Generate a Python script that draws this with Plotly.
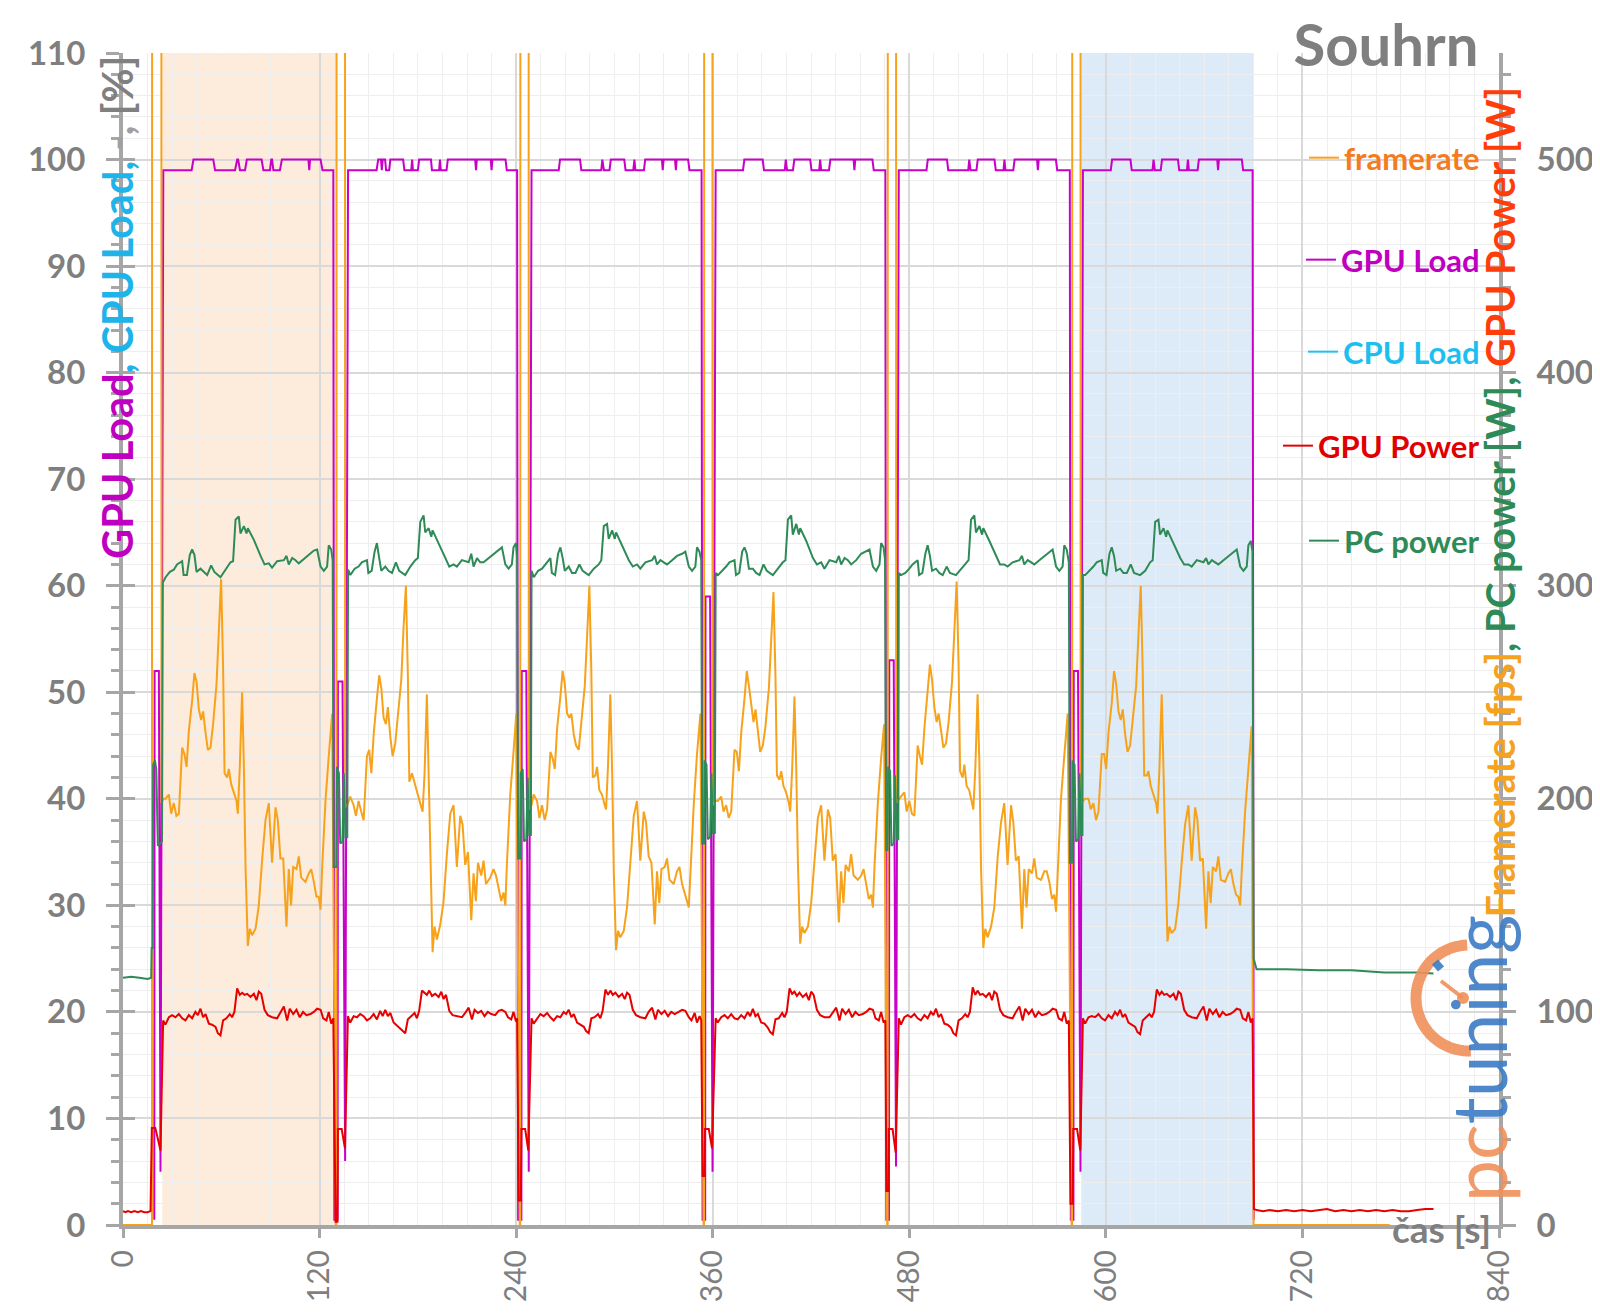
import math
import plotly.graph_objects as go

# ---------------- DATA (time [s], value) ----------------
# framerate [fps] (right axis); loading-screen spikes run far above the axis top
framerate_points = [
    (0, 0), (17.7, 0), (17.9, 1500), (23.3, 1500), (23.5, 198),
    (24.6, 200), (25.9, 200), (28.0, 202), (29.4, 193), (31.0, 198), (32.6, 192), (34.1, 193), (36.1, 224), (37.5, 221),
    (38.8, 215), (40.2, 232), (42.2, 246), (43.6, 259), (44.9, 255), (46.3, 242), (47.7, 237), (48.9, 241), (50.4, 231),
    (51.8, 223), (53.4, 224), (55.0, 235), (57.1, 254), (58.5, 278), (59.9, 303), (61.1, 262), (62.0, 212), (63.6, 210),
    (64.6, 214), (66.0, 207), (67.6, 203), (69.3, 199), (70.1, 193), (71.3, 215), (72.7, 250), (73.8, 215), (74.8, 168),
    (76.2, 131), (77.4, 139), (78.8, 136), (80.9, 139), (82.9, 150), (85.0, 172), (87.0, 190), (89.0, 198), (91.0, 170),
    (93.1, 196), (94.5, 190), (96.1, 172), (97.8, 172), (99.8, 140), (101.2, 167), (102.6, 150), (103.9, 168), (105.9, 167),
    (107.3, 173), (108.8, 163), (111.4, 161), (113.4, 165), (114.9, 167), (116.5, 161), (118.1, 154), (119.5, 154),
    (120.6, 148), (121.6, 168), (123.6, 199), (125.6, 220), (127.7, 240),
    (129.9, 0), (130.3, 0), (130.5, 1500), (135.4, 1500), (135.6, 196),
    (137.4, 198), (138.7, 201), (140.8, 197), (142.2, 192), (143.8, 199), (145.4, 194), (146.9, 190), (148.9, 220), (150.3, 223),
    (151.6, 212), (153.0, 230), (155.0, 247), (156.4, 258), (157.7, 252), (159.1, 238), (160.5, 235), (161.7, 243), (163.2, 229),
    (164.6, 220), (166.2, 226), (167.8, 238), (169.9, 256), (171.3, 281), (172.7, 300), (173.9, 258), (174.8, 208), (176.4, 212),
    (177.4, 209), (178.8, 205), (180.4, 201), (182.1, 196), (182.9, 194), (184.1, 212), (185.5, 249), (186.6, 210), (187.6, 165),
    (189.0, 128), (190.2, 140), (191.6, 134), (193.7, 141), (195.7, 152), (197.8, 175), (199.8, 193), (201.8, 197), (203.8, 168),
    (205.9, 192), (207.3, 188), (208.9, 169), (210.6, 175), (212.6, 143), (214.0, 165), (215.4, 152), (216.7, 170), (218.7, 164),
    (220.1, 171), (221.6, 160), (224.2, 163), (226.2, 167), (227.7, 164), (229.3, 158), (230.9, 152), (232.3, 156), (233.4, 150),
    (234.4, 170), (236.4, 202), (238.4, 222), (240.1, 240),
    (242.2, 0), (242.5, 0), (242.7, 1500), (247.5, 1500), (247.7, 195),
    (249.4, 197), (250.7, 202), (252.8, 199), (254.2, 191), (255.8, 197), (257.4, 190), (258.9, 195), (260.9, 222), (262.3, 219),
    (263.6, 214), (265.0, 233), (267.0, 248), (268.4, 260), (269.7, 254), (271.1, 240), (272.5, 238), (273.7, 240), (275.2, 230),
    (276.6, 225), (278.2, 223), (279.8, 236), (281.9, 253), (283.3, 276), (284.7, 300), (285.9, 260), (286.8, 210), (288.4, 211),
    (289.4, 215), (290.8, 204), (292.4, 202), (294.1, 197), (294.9, 195), (296.1, 216), (297.5, 249), (298.6, 213), (299.6, 166),
    (301.0, 129), (302.2, 138), (303.6, 135), (305.7, 138), (307.7, 149), (309.8, 170), (311.8, 192), (313.8, 199), (315.8, 171),
    (317.9, 194), (319.3, 189), (320.9, 173), (322.6, 170), (324.6, 141), (326.0, 166), (327.4, 151), (328.7, 167), (330.7, 168),
    (332.1, 172), (333.6, 162), (336.2, 160), (338.2, 166), (339.7, 168), (341.3, 160), (342.9, 155), (344.3, 152), (345.4, 149),
    (346.4, 166), (348.4, 197), (350.4, 221), (352.5, 240),
    (354.4, 0), (354.7, 0), (354.9, 1500), (359.7, 1500), (359.9, 197),
    (361.8, 199), (363.1, 199), (365.2, 201), (366.6, 194), (368.2, 197), (369.8, 191), (371.3, 194), (373.3, 223), (374.7, 222),
    (376.0, 213), (377.4, 231), (379.4, 247), (380.8, 260), (382.1, 253), (383.5, 243), (384.9, 236), (386.1, 242), (387.6, 232),
    (389.0, 222), (390.6, 225), (392.2, 234), (394.3, 252), (395.7, 275), (397.1, 297), (398.3, 258), (399.2, 211), (400.8, 209),
    (401.8, 213), (403.2, 206), (404.8, 203), (406.5, 198), (407.3, 194), (408.5, 214), (409.9, 248), (411.0, 214), (412.0, 170),
    (413.4, 132), (414.6, 140), (416.0, 137), (418.1, 140), (420.1, 151), (422.2, 171), (424.2, 191), (426.2, 197), (428.2, 171),
    (430.3, 195), (431.7, 191), (433.3, 171), (435.0, 174), (437.0, 142), (438.4, 166), (439.8, 151), (441.1, 169), (443.1, 166),
    (444.5, 174), (446.0, 164), (448.6, 162), (450.6, 164), (452.1, 167), (453.7, 160), (455.3, 153), (456.7, 155), (457.8, 149),
    (458.8, 169), (460.8, 198), (462.8, 219), (464.6, 235),
    (466.5, 0), (466.8, 0), (467.0, 1500), (471.8, 1500), (472.0, 198),
    (473.6, 200), (474.9, 201), (477.0, 203), (478.4, 194), (480.0, 199), (481.6, 193), (483.1, 192), (485.1, 225), (486.5, 220),
    (487.8, 216), (489.2, 233), (491.2, 249), (492.6, 263), (493.9, 256), (495.3, 243), (496.7, 236), (497.9, 240), (499.4, 232),
    (500.8, 224), (502.4, 226), (504.0, 236), (506.1, 255), (507.5, 279), (508.9, 302), (510.1, 263), (511.0, 213), (512.6, 210),
    (513.6, 216), (515.0, 206), (516.6, 204), (518.3, 198), (519.1, 195), (520.3, 214), (521.7, 249), (522.8, 216), (523.8, 168),
    (525.2, 130), (526.4, 139), (527.8, 135), (529.9, 140), (531.9, 149), (534.0, 173), (536.0, 189), (538.0, 198), (540.0, 169),
    (542.1, 197), (543.5, 189), (545.1, 171), (546.8, 173), (548.8, 139), (550.2, 167), (551.6, 149), (552.9, 167), (554.9, 165),
    (556.3, 172), (557.8, 163), (560.4, 162), (562.4, 166), (563.9, 166), (565.5, 161), (567.1, 153), (568.5, 155), (569.6, 147),
    (570.6, 167), (572.6, 200), (574.6, 220), (576.7, 240),
    (579.1, 0), (579.4, 0), (579.6, 1500), (584.4, 1500), (584.6, 197),
    (586.0, 199), (587.3, 200), (589.4, 200), (590.8, 195), (592.4, 198), (594.0, 190), (595.5, 194), (597.5, 221), (598.9, 221),
    (600.2, 214), (601.6, 231), (603.6, 245), (605.0, 260), (606.3, 254), (607.7, 241), (609.1, 237), (610.3, 242), (611.8, 230),
    (613.2, 222), (614.8, 225), (616.4, 236), (618.5, 253), (619.9, 277), (621.3, 300), (622.5, 260), (623.4, 211), (625.0, 211),
    (626.0, 213), (627.4, 206), (629.0, 202), (630.7, 198), (631.5, 193), (632.7, 214), (634.1, 249), (635.2, 214), (636.2, 169),
    (637.6, 133), (638.8, 140), (640.2, 137), (642.3, 139), (644.3, 151), (646.4, 171), (648.4, 188), (650.4, 197), (652.4, 171),
    (654.5, 196), (655.9, 190), (657.5, 171), (659.2, 172), (661.2, 139), (662.6, 166), (664.0, 151), (665.3, 168), (667.3, 166),
    (668.7, 173), (670.2, 162), (672.8, 161), (674.8, 165), (676.3, 167), (677.9, 160), (679.5, 155), (680.9, 154), (682.0, 150),
    (683.0, 167), (685.0, 194), (687.0, 214), (689.0, 234),
    (690.2, 0), (773.3, 0),
]

# GPU Load [%] (left axis)
gpu_load_points = [
    (19.1, 0.5), (19.3, 52), (21.9, 52), (22.9, 5),
    (24.6, 99), (41.9, 99), (43.0, 100), (55.1, 100), (56.2, 99), (68.4, 99), (69.7, 100), (70.3, 100), (71.4, 99), (74.5, 99),
    (75.6, 100), (84.6, 100), (85.7, 99), (89.7, 99), (90.5, 100), (91.0, 100), (91.8, 99), (95.8, 99), (97.0, 100), (113.2, 100),
    (113.7, 99), (114.2, 100), (120.6, 100), (121.8, 99), (128.4, 99),
    (129.0, 0.5), (131.0, 0.5), (131.2, 51), (134.0, 51), (135.6, 6),
    (137.4, 99), (154.8, 99), (155.8, 100), (157.5, 100), (158.0, 99), (158.5, 100), (160.0, 100), (160.6, 99), (162.5, 99),
    (163.2, 100), (171.0, 100), (171.8, 99), (176.0, 99), (176.5, 100), (177.0, 99), (180.0, 99), (180.8, 100), (188.0, 100),
    (188.6, 99), (193.0, 99), (193.5, 100), (194.0, 99), (197.5, 99), (198.3, 100), (215.0, 100), (215.5, 99), (216.0, 100),
    (224.5, 100), (225.0, 99), (225.5, 100), (233.5, 100), (234.3, 99), (240.6, 99),
    (241.2, 0.5), (243.2, 0.5), (243.4, 52), (246.2, 52), (247.7, 5),
    (249.4, 99), (266.0, 99), (266.8, 100), (279.0, 100), (279.8, 99), (292.0, 99), (292.6, 100), (293.6, 99), (297.0, 99),
    (297.8, 100), (306.0, 100), (306.8, 99), (311.5, 99), (312.2, 100), (312.8, 99), (318.0, 99), (318.8, 100), (329.0, 100),
    (329.5, 99), (330.0, 100), (337.0, 100), (337.5, 99), (338.0, 100), (345.0, 100), (345.8, 99), (353.2, 99),
    (353.8, 0.5), (355.4, 0.5), (355.6, 59), (358.4, 59), (359.9, 5),
    (361.8, 99), (378.5, 99), (379.3, 100), (390.5, 100), (391.3, 99), (404.0, 99), (404.6, 100), (405.4, 99), (409.0, 99),
    (409.8, 100), (419.5, 100), (420.3, 99), (425.0, 99), (425.6, 100), (426.2, 99), (431.0, 99), (431.8, 100), (446.0, 100),
    (446.5, 99), (447.0, 100), (457.5, 100), (458.3, 99), (465.4, 99),
    (466.0, 0.5), (467.6, 0.5), (467.8, 53), (470.5, 53), (471.9, 5.5),
    (473.6, 99), (490.5, 99), (491.3, 100), (503.0, 100), (503.8, 99), (516.0, 99), (516.6, 100), (517.4, 99), (521.0, 99),
    (521.8, 100), (532.0, 100), (532.8, 99), (537.5, 99), (538.1, 100), (538.7, 99), (543.5, 99), (544.3, 100), (558.0, 100),
    (558.5, 99), (559.0, 100), (569.5, 100), (570.3, 99), (578.0, 99),
    (578.6, 0.5), (580.2, 0.5), (580.4, 52), (583.0, 52), (584.5, 5),
    (586.0, 99), (603.0, 99), (603.8, 100), (615.0, 100), (615.8, 99), (628.5, 99), (629.1, 100), (629.9, 99), (633.5, 99),
    (634.3, 100), (644.0, 100), (644.8, 99), (649.5, 99), (650.1, 100), (650.7, 99), (656.0, 99), (656.8, 100), (668.0, 100),
    (668.5, 99), (669.0, 100), (683.0, 100), (683.8, 99), (689.6, 99), (690.3, 0.5),
]

# CPU Load [%] (left axis) - no samples visible in the chart
cpu_load_points = []

# GPU Power [W] (right axis)
gpu_power_points = [
    (0, 6.5), (1.5, 6), (3, 6.5), (5, 6), (7, 6.5), (9, 6), (11, 6.5), (13, 6), (15, 6), (16.8, 6.5),
    (17.6, 45.5), (19.7, 45.5), (20.5, 43), (22.9, 35),
    (24.5, 96), (25.9, 94), (28.0, 97.5), (30.0, 98.5), (32.0, 97.5), (34.1, 99), (36.1, 97), (38.1, 96), (40.2, 98.5),
    (42.2, 97), (44.2, 100), (45.7, 98.5), (47.3, 101.5), (48.9, 97.5), (50.4, 99), (52.4, 94.5), (54.4, 94), (56.5, 93),
    (57.9, 90), (59.5, 89), (61.1, 96), (63.1, 97), (65.2, 99), (66.6, 97.5), (68.0, 100), (69.7, 111), (71.3, 108),
    (72.7, 109), (74.2, 108), (75.8, 108.5), (77.8, 107), (79.9, 108.5), (81.5, 105.5), (82.9, 109.5), (84.4, 108.5),
    (86.4, 101), (88.4, 98.5), (91.0, 97.5), (94.1, 97), (96.1, 100), (98.2, 102.5), (100.2, 96), (101.8, 101.5), (103.9, 99),
    (105.9, 101), (107.9, 97.5), (109.9, 100), (112.0, 98.5), (114.4, 99), (116.5, 100), (118.5, 101.5), (120.6, 101),
    (122.2, 97), (124.2, 96), (125.6, 100), (127.1, 94.5), (128.4, 97),
    (129.8, 1.5), (130.9, 1.5), (131.2, 45), (133.5, 45), (135.5, 36),
    (137.3, 98), (138.7, 95), (140.8, 98), (142.8, 97.5), (144.8, 99), (146.9, 98), (148.9, 96), (150.9, 97), (153.0, 99),
    (155.0, 96.5), (157.0, 100.5), (158.5, 98), (160.1, 101), (161.7, 98), (163.2, 99.5), (165.2, 95), (167.2, 93.5),
    (169.3, 92), (170.7, 91), (172.3, 90), (173.9, 96.5), (175.9, 98), (178.0, 99.5), (179.4, 97), (180.8, 100.5),
    (182.5, 110), (184.1, 109), (185.5, 108), (187.0, 110), (188.6, 107.5), (190.6, 108.5), (192.7, 107), (194.3, 109.5),
    (195.7, 106), (197.2, 108), (199.2, 100.5), (201.2, 98.5), (203.8, 98), (206.9, 97.5), (208.9, 99.5), (211.0, 102),
    (213.0, 96.5), (214.6, 101), (216.7, 99.5), (218.7, 100.5), (220.7, 98), (222.7, 100), (224.8, 99), (227.2, 98.5),
    (229.3, 100.5), (231.3, 101), (233.4, 100), (235.0, 97.5), (237.0, 96.5), (238.4, 100), (239.9, 95.5), (240.6, 97),
    (241.6, 11.5), (242.9, 11.5), (243.2, 45), (245.5, 45), (247.4, 35),
    (249.4, 97), (250.7, 94.5), (252.8, 97), (254.8, 99), (256.8, 98), (258.9, 99.5), (260.9, 97.5), (262.9, 96), (265.0, 98),
    (267.0, 97.5), (269.0, 100), (270.5, 99), (272.1, 101), (273.7, 97.5), (275.2, 99), (277.2, 95), (279.2, 94), (281.3, 93),
    (282.7, 91), (284.3, 90), (285.9, 97), (287.9, 97.5), (290.0, 99), (291.4, 97), (292.8, 100.5), (294.5, 110.5),
    (296.1, 108), (297.5, 110), (299.0, 108), (300.6, 109), (302.6, 107), (304.7, 108.5), (306.3, 106), (307.7, 109),
    (309.2, 108), (311.2, 101), (313.2, 98.5), (315.8, 97.5), (318.9, 97), (320.9, 100), (323.0, 102), (325.0, 96.5),
    (326.6, 101), (328.7, 99), (330.7, 100.5), (332.7, 98), (334.7, 100), (336.8, 99), (339.2, 100), (341.3, 101),
    (343.3, 100.5), (345.4, 97.5), (347.0, 96), (349.0, 99.5), (350.4, 95), (352.0, 98), (353.0, 96),
    (353.8, 23), (355.0, 23), (355.3, 45), (357.6, 45), (359.6, 36),
    (361.8, 97), (363.1, 95), (365.2, 97.5), (367.2, 98.5), (369.2, 97), (371.3, 99), (373.3, 97), (375.3, 96.5), (377.4, 98.5),
    (379.4, 97), (381.4, 100), (382.9, 98), (384.5, 101.5), (386.1, 98), (387.6, 99), (389.6, 95), (391.6, 94.5), (393.7, 92.5),
    (395.1, 90.5), (396.7, 89.5), (398.3, 96.5), (400.3, 97), (402.4, 99.5), (403.8, 97.5), (405.2, 100), (406.9, 111),
    (408.5, 108.5), (409.9, 109.5), (411.4, 107.5), (413.0, 109), (415.0, 107), (417.1, 108.5), (418.7, 105.5), (420.1, 109.5),
    (421.6, 108), (423.6, 101), (425.6, 98.5), (428.2, 97.5), (431.3, 97.5), (433.3, 100), (435.4, 102), (437.4, 96),
    (439.0, 101.5), (441.1, 99), (443.1, 101), (445.1, 97.5), (447.1, 100), (449.2, 98.5), (451.6, 99), (453.7, 100),
    (455.7, 101.5), (457.8, 101), (459.4, 97), (461.4, 96), (462.8, 100), (464.3, 95), (465.4, 96),
    (466.0, 16), (467.2, 16), (467.5, 45), (469.8, 45), (471.7, 34),
    (473.6, 97), (474.9, 94), (477.0, 97.5), (479.0, 98.5), (481.0, 97.5), (483.1, 99), (485.1, 97), (487.1, 96), (489.2, 98.5),
    (491.2, 97), (493.2, 100), (494.7, 98.5), (496.3, 101.5), (497.9, 97.5), (499.4, 99), (501.4, 94.5), (503.4, 94),
    (505.5, 92.5), (506.9, 90), (508.5, 89), (510.1, 96), (512.1, 97), (514.2, 99), (515.6, 97.5), (517.0, 100), (518.7, 111.5),
    (520.3, 108), (521.7, 110), (523.2, 108), (524.8, 108.5), (526.8, 107), (528.9, 109), (530.5, 105.5), (531.9, 109.5),
    (533.4, 108.5), (535.4, 101), (537.4, 98.5), (540.0, 97.5), (543.1, 97), (545.1, 100), (547.2, 102.5), (549.2, 96),
    (550.8, 101.5), (552.9, 99), (554.9, 101), (556.9, 97.5), (558.9, 100), (561.0, 98.5), (563.4, 99), (565.5, 100),
    (567.5, 101.5), (569.6, 101), (571.2, 97), (573.2, 96), (574.6, 100), (576.1, 94.5), (577.4, 96),
    (578.4, 10), (579.8, 10), (580.1, 45), (582.4, 45), (584.4, 35),
    (586.0, 97), (587.3, 94.5), (589.4, 97.5), (591.4, 98), (593.4, 97.5), (595.5, 99), (597.5, 97), (599.5, 96), (601.6, 98.5),
    (603.6, 97), (605.6, 100), (607.1, 98.5), (608.7, 101), (610.3, 97.5), (611.8, 99), (613.8, 95), (615.8, 94), (617.9, 93),
    (619.3, 90.5), (620.9, 89.5), (622.5, 96), (624.5, 97.5), (626.6, 99), (628.0, 97.5), (629.4, 100), (631.1, 110.5),
    (632.7, 108), (634.1, 109.5), (635.6, 108), (637.2, 108.5), (639.2, 107), (641.3, 108.5), (642.9, 105.5), (644.3, 109.5),
    (645.8, 108.5), (647.8, 101), (649.8, 98.5), (652.4, 97.5), (655.5, 97), (657.5, 100), (659.6, 102.5), (661.6, 96),
    (663.2, 101.5), (665.3, 99), (667.3, 101), (669.3, 97.5), (671.3, 100), (673.4, 98.5), (675.8, 99), (677.9, 100),
    (679.9, 101.5), (682.0, 101), (683.6, 97), (685.6, 96), (687.0, 100), (688.5, 95), (689.6, 97),
    (690.4, 7.5), (692, 7), (696, 6.5), (700, 7), (705, 6.5), (710, 7), (715, 6.5), (720, 7), (725, 6.5), (730, 7), (735, 7.5),
    (740, 6.5), (745, 7), (750, 6.5), (755, 7), (760, 6.5), (765, 7), (770, 6.5), (775, 7), (780, 6.5), (785, 6.5), (790, 7),
    (795, 7.5), (800, 7.5),
]

# PC power [W] (right axis)
pc_power_points = [
    (0, 116), (5, 116.5), (10, 116), (15, 115.5), (17.2, 116), (17.5, 130), (18.1, 130), (18.4, 216), (19.5, 218),
    (20.3, 214), (21.3, 178), (22.8, 179), (23.8, 180),
    (24.3, 301.5), (26.0, 304), (28.6, 306.5), (31.0, 307.5), (33.0, 310), (36.1, 311.5), (37.0, 305), (39.0, 305),
    (40.8, 314.5), (42.2, 317), (43.6, 314.5), (44.9, 306.5), (47.3, 308), (49.3, 306.5), (51.4, 305), (53.8, 309.5),
    (55.8, 306.5), (59.5, 304), (62.6, 307.5), (65.6, 311), (67.2, 311.5), (68.7, 331), (70.7, 332.5), (71.7, 324.5),
    (73.8, 328), (75.4, 324.5), (76.2, 327), (79.9, 321.5), (84.0, 314), (86.4, 310), (89.0, 310.5), (91.0, 308.5),
    (94.1, 311.5), (98.2, 312), (99.8, 314), (101.2, 310), (103.3, 313), (105.3, 312), (107.3, 310.5), (110.4, 312.5),
    (113.4, 314.5), (116.5, 316.5), (118.5, 317), (120.6, 309), (122.6, 307), (124.6, 309), (125.6, 319), (127.1, 317),
    (128.0, 312),
    (128.6, 168), (130.2, 168), (130.6, 215), (131.8, 212), (132.6, 179), (134.0, 180), (134.8, 212), (135.8, 182), (136.9, 182),
    (137.4, 307.5), (138.8, 305), (141.4, 308), (143.8, 309), (145.8, 311), (148.9, 312), (149.8, 306), (151.8, 307),
    (153.6, 316), (155.0, 320), (156.4, 313), (157.7, 307), (160.1, 309), (162.1, 307), (164.2, 306), (166.6, 311),
    (168.6, 307), (172.3, 305), (175.4, 309), (178.4, 312), (180.0, 313), (181.5, 330), (183.5, 333), (184.5, 325),
    (186.6, 327), (188.2, 323), (189.0, 326), (192.7, 320), (196.8, 313), (199.2, 309), (201.8, 310), (203.8, 309),
    (206.9, 312), (211.0, 311), (212.6, 315), (214.0, 309), (216.1, 313), (218.1, 311), (220.1, 311), (223.2, 313),
    (226.2, 315), (229.3, 317), (231.3, 318), (233.4, 310), (235.4, 308), (237.4, 310), (238.4, 318), (239.9, 320),
    (240.6, 313),
    (241.2, 172), (242.4, 172), (242.8, 212), (244.0, 214), (244.8, 180), (246.2, 181), (247.0, 210), (248.0, 183), (249.0, 183),
    (249.4, 307), (250.8, 304), (253.4, 307), (255.8, 308), (257.8, 310), (260.9, 313), (261.8, 306), (263.8, 305),
    (265.6, 315), (267.0, 318), (268.4, 313), (269.7, 307), (272.1, 309), (274.1, 306), (276.2, 306), (278.6, 310),
    (280.6, 307), (284.3, 305), (287.4, 308), (290.4, 310), (292.0, 312), (293.5, 328), (295.5, 329), (296.5, 322),
    (298.6, 326), (300.2, 322), (301.0, 325), (304.7, 319), (308.8, 312), (311.2, 309), (313.8, 310), (315.8, 308),
    (318.9, 311), (323.0, 312), (324.6, 314), (326.0, 310), (328.1, 312), (330.1, 311), (332.1, 310), (335.2, 312),
    (338.2, 314), (341.3, 315), (343.3, 316), (345.4, 309), (347.4, 307), (349.4, 309), (350.4, 318), (351.9, 316),
    (353.0, 312),
    (353.6, 179), (354.7, 179), (355.0, 218), (356.2, 216), (357.0, 181), (358.4, 182), (359.2, 212), (360.2, 184), (361.3, 184),
    (361.8, 306), (363.2, 305), (365.8, 307), (368.2, 309), (370.2, 311), (373.3, 312), (374.2, 305), (376.2, 306),
    (378.0, 316), (379.4, 318), (380.8, 315), (382.1, 308), (384.5, 308), (386.5, 306), (388.6, 305), (391.0, 310),
    (393.0, 307), (396.7, 305), (399.8, 308), (402.8, 311), (404.4, 312), (405.9, 331), (407.9, 333), (408.9, 324),
    (411.0, 329), (412.6, 324), (413.4, 327), (417.1, 321), (421.2, 313), (423.6, 310), (426.2, 311), (428.2, 308),
    (431.3, 312), (435.4, 311), (437.0, 314), (438.4, 310), (440.5, 313), (442.5, 312), (444.5, 310), (447.6, 312),
    (450.6, 315), (453.7, 316), (455.7, 317), (457.8, 309), (459.8, 307), (461.8, 310), (462.8, 320), (464.3, 318),
    (465.2, 312),
    (465.9, 176), (466.7, 176), (467.1, 215), (468.3, 213), (469.1, 178), (470.5, 179), (471.3, 211), (472.3, 181), (473.3, 181),
    (473.6, 306), (475.0, 305), (477.6, 306), (480.0, 308), (482.0, 310), (485.1, 312), (486.0, 305), (488.0, 306),
    (489.8, 315), (491.2, 319), (492.6, 314), (493.9, 307), (496.3, 308), (498.3, 306), (500.4, 305), (502.8, 309),
    (504.8, 306), (508.5, 305), (511.6, 308), (514.6, 311), (516.2, 312), (517.7, 331), (519.7, 333), (520.7, 325),
    (522.8, 328), (524.4, 324), (525.2, 327), (528.9, 321), (533.0, 314), (535.4, 310), (538.0, 310), (540.0, 309),
    (543.1, 311), (547.2, 312), (548.8, 314), (550.2, 310), (552.3, 312), (554.3, 311), (556.3, 310), (559.4, 312),
    (562.4, 314), (565.5, 316), (567.5, 317), (569.6, 309), (571.6, 307), (573.6, 309), (574.6, 319), (576.1, 317),
    (577.4, 311),
    (578.0, 170), (579.3, 170), (579.7, 218), (580.9, 216), (581.7, 180), (583.1, 181), (583.9, 212), (584.9, 183), (585.7, 183),
    (586.0, 305), (587.4, 305), (590.0, 307), (592.4, 309), (594.4, 311), (597.5, 312), (598.4, 306), (600.4, 305),
    (602.2, 315), (603.6, 318), (605.0, 314), (606.3, 307), (608.7, 308), (610.7, 306), (612.8, 306), (615.2, 310),
    (617.2, 306), (620.9, 305), (624.0, 307), (627.0, 311), (628.6, 312), (630.1, 330), (632.1, 331), (633.1, 324),
    (635.2, 327), (636.8, 323), (637.6, 326), (641.3, 320), (645.4, 313), (647.8, 310), (650.4, 310), (652.4, 309),
    (655.5, 312), (659.6, 311), (661.2, 313), (662.6, 310), (664.7, 312), (666.7, 311), (668.7, 310), (671.8, 312),
    (674.8, 314), (677.9, 316), (679.9, 317), (682.0, 309), (684.0, 307), (686.0, 309), (687.0, 319), (688.5, 321),
    (689.5, 316),
    (690.2, 125), (691.5, 121), (692, 120), (710, 120), (730, 119.5), (750, 119.5), (770, 118.5), (790, 118.5), (800, 118),
]

# shaded comparison windows (first and last run)
band_start = [24.0, 585.0]
band_end = [130.4, 690.3]
band_colors = ["#FDEBDC", "#DDEAF8"]

x_tick_values = [0, 120, 240, 360, 480, 600, 720, 840]

# ---------------- STYLE ----------------
FONT = "Lato"
GRAY = "#7F7F7F"
AXIS = "#A6A6A6"
LOGO_ORANGE = "#F0905A"
LOGO_BLUE = "#3B7CC6"

# The html page body has an 8 px margin, so the figure is drawn 8 px in from the page corner.
PAGE_OFFSET = 8
PAGE_W, PAGE_H = 1600, 1314
FIG_W, FIG_H = PAGE_W - PAGE_OFFSET, PAGE_H - PAGE_OFFSET
# plot area in page pixels
PLOT_LEFT, PLOT_RIGHT, PLOT_TOP, PLOT_BOTTOM = 123, 1499, 53, 1225


def xs(points):
    return [p[0] for p in points] if points else [None]


def ys(points):
    return [p[1] for p in points] if points else [None]


def row(page_y):
    return (PLOT_BOTTOM - page_y) / (PLOT_BOTTOM - PLOT_TOP)


def col(page_x):
    return (page_x - PLOT_LEFT) / (PLOT_RIGHT - PLOT_LEFT)


# name, data, line colour, legend text colour, axis, legend row centre (page px)
series = [
    ("framerate", framerate_points, "#F7A21B", "#F47B20", "y2", 158),
    ("GPU Load", gpu_load_points, "#C800C8", "#C000C0", "y", 260),
    ("CPU Load", cpu_load_points, "#1EC0F0", "#1EBFEF", "y3", 352),
    ("GPU Power", gpu_power_points, "#E60000", "#E00000", "y2", 446),
    ("PC power", pc_power_points, "#2E8B57", "#2E8B57", "y2", 541),
]

fig = go.Figure()
legends = {}
for i, (name, pts, lc, tc, ax, row_y) in enumerate(series):
    lg = "legend" if i == 0 else f"legend{i + 1}"
    fig.add_trace(go.Scatter(
        x=xs(pts), y=ys(pts), mode="lines", yaxis=ax,
        name=f"<span style='color:{tc}'>{name}</span>",
        legend=lg,
        line=dict(color=lc, width=2),
        hoverinfo="skip",
    ))
    legends[lg] = dict(
        x=0.9898, xanchor="right", y=row(row_y), yanchor="middle",
        bgcolor="rgba(0,0,0,0)", itemwidth=30,
        font=dict(family=FONT, size=31, weight=700),
    )

for s, e, c in zip(band_start, band_end, band_colors):
    fig.add_shape(type="rect", xref="x", yref="paper", x0=s, x1=e, y0=0, y1=1,
                  fillcolor=c, line=dict(width=0), layer="below")

# ---- pctuning watermark gauge (decoration, page px) ----
gauge_cx, gauge_cy, gauge_r = 1469, 998, 53
arc = [(gauge_cx + gauge_r * math.cos(math.radians(a)), gauge_cy - gauge_r * math.sin(math.radians(a)))
       for a in range(92, 276, 4)]
arc_path = "M " + " L ".join(f"{col(px):.5f},{row(py):.5f}" for px, py in arc)
fig.add_shape(type="path", path=arc_path, xref="paper", yref="paper",
              line=dict(color=LOGO_ORANGE, width=11), opacity=0.9)
fig.add_shape(type="line", xref="paper", yref="paper",
              x0=col(1441), y0=row(969), x1=col(1435), y1=row(962),
              line=dict(color=LOGO_BLUE, width=8), opacity=0.9)
fig.add_shape(type="line", xref="paper", yref="paper",
              x0=col(1441), y0=row(981), x1=col(1463), y1=row(998),
              line=dict(color=LOGO_ORANGE, width=4), opacity=0.9)
fig.add_shape(type="circle", xref="paper", yref="paper",
              x0=col(1457), y0=row(1004), x1=col(1469), y1=row(992),
              fillcolor=LOGO_ORANGE, line=dict(width=0), opacity=0.9)

fig.update_layout(
    width=FIG_W, height=FIG_H,
    margin=dict(l=PLOT_LEFT - PAGE_OFFSET, r=PAGE_W - PLOT_RIGHT,
                t=PLOT_TOP - PAGE_OFFSET, b=PAGE_H - PLOT_BOTTOM, autoexpand=False),
    paper_bgcolor="white", plot_bgcolor="white",
    font=dict(family=FONT, color=GRAY),
    showlegend=True,
    title=dict(text="Souhrn", x=0.985, xref="paper", xanchor="right",
               y=1 - (46 - PAGE_OFFSET) / FIG_H, yref="container", yanchor="middle",
               font=dict(family=FONT, size=58, weight=700, color=GRAY)),
    xaxis=dict(
        range=[0, 840], tickvals=x_tick_values, tickangle=-90,
        ticks="outside", ticklen=9, tickwidth=3, tickcolor=AXIS,
        showline=True, linecolor=AXIS, linewidth=4,
        showgrid=True, gridcolor="#D9D9D9", gridwidth=1.5,
        minor=dict(dtick=15, tick0=0, showgrid=True, gridcolor="#EEEEEE", gridwidth=1),
        tickfont=dict(family=FONT, size=30, color=GRAY),
        zeroline=False, ticklabelstandoff=0, automargin=False,
    ),
    yaxis=dict(
        range=[0, 110], dtick=10, tick0=0,
        ticks="outside", ticklen=13, tickwidth=3, tickcolor=AXIS,
        showline=True, linecolor=AXIS, linewidth=4,
        showgrid=True, gridcolor="#D9D9D9", gridwidth=1.5,
        minor=dict(dtick=2, tick0=0, ticks="outside", ticklen=8, tickwidth=2.5, tickcolor=AXIS,
                   showgrid=True, gridcolor="#EEEEEE", gridwidth=1),
        tickfont=dict(family=FONT, size=33, weight=700, color=GRAY),
        zeroline=False, ticklabelstandoff=14, automargin=False,
    ),
    yaxis2=dict(
        overlaying="y", side="right", range=[0, 550], dtick=100, tick0=0,
        ticks="outside", ticklen=13, tickwidth=3, tickcolor=AXIS,
        showline=True, linecolor=AXIS, linewidth=4, showgrid=False,
        minor=dict(dtick=20, tick0=0, ticks="outside", ticklen=8, tickwidth=2.5, tickcolor=AXIS, showgrid=False),
        tickfont=dict(family=FONT, size=33, weight=700, color=GRAY),
        zeroline=False, ticklabelstandoff=14, automargin=False,
    ),
    # same % scale as the left axis; carries the inner half of the major ticks
    yaxis3=dict(
        overlaying="y", side="left", range=[0, 110], dtick=10, tick0=0,
        ticks="inside", ticklen=12, tickwidth=3, tickcolor=AXIS,
        showticklabels=False, showline=False, showgrid=False, zeroline=False, automargin=False,
    ),
    **legends,
)

left_title = ("<span style='color:#C000C0'>GPU Load</span>"
              "<span style='color:#1EB4EA'>, CPU Load,</span>"
              "<span style='color:#A0A0A0'> -, </span>"
              "<span style='color:#808080'>[%]</span>")
right_title = ("<span style='color:#F5A21E'>Framerate [fps]</span>"
               "<span style='color:#2E8B57'>, PC power [W], </span>"
               "<span style='color:#FF3D0A'>GPU Power [W]</span>")

fig.add_annotation(text=left_title, textangle=-90, xref="paper", yref="paper",
                   x=0, y=1, xanchor="center", yanchor="top", xshift=-6, showarrow=False,
                   font=dict(family=FONT, size=41.5, weight=700))
fig.add_annotation(text=right_title, textangle=-90, xref="paper", yref="paper",
                   x=1, y=row(85), xanchor="center", yanchor="top", showarrow=False,
                   font=dict(family=FONT, size=39.5, weight=700))
fig.add_annotation(text="čas [s]", xref="paper", yref="paper", x=0.9956, y=0,
                   xanchor="right", yanchor="middle", yshift=-3, showarrow=False,
                   font=dict(family=FONT, size=37, weight=700, color=GRAY))
fig.add_annotation(text=f"<span style='color:{LOGO_ORANGE}'>pc</span><span style='color:{LOGO_BLUE}'>tuning</span>",
                   textangle=-90, xref="paper", yref="paper", x=col(1478), y=row(1059),
                   xanchor="center", yanchor="middle", showarrow=False, opacity=0.9,
                   font=dict(family=FONT, size=75, weight=400))

fig.write_html("out.html")
